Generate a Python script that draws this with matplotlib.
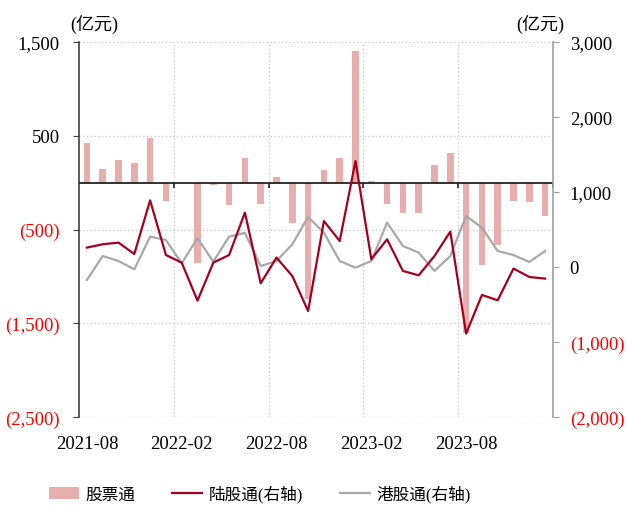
import matplotlib
matplotlib.use("Agg")
import matplotlib.pyplot as plt
from matplotlib.patches import Patch
from matplotlib.lines import Line2D
import numpy as np

plt.rcParams['font.family'] = ['Liberation Serif', 'Noto Sans CJK SC']

months = ["2021-08", "2021-09", "2021-10", "2021-11", "2021-12", "2022-01",
          "2022-02", "2022-03", "2022-04", "2022-05", "2022-06", "2022-07",
          "2022-08", "2022-09", "2022-10", "2022-11", "2022-12", "2023-01",
          "2023-02", "2023-03", "2023-04", "2023-05", "2023-06", "2023-07",
          "2023-08", "2023-09", "2023-10", "2023-11", "2023-12", "2024-01"]

# 股票通 net flow (left axis, 亿元)
stock_connect = [420, 145, 238, 213, 473, -192, 0, -854, -21, -235, 267, -231,
                 57, -427, -1245, 135, 267, 1400, 13, -231, -322, -325, 185, 320,
                 -1600, -877, -666, -192, -207, -352]
# 陆股通 (northbound, right axis)
northbound = [259, 303, 325, 173, 889, 160, 58, -448, 58, 160, 725, -217,
              125, -120, -587, 613, 347, 1413, 103, 369, -53, -111, 147, 472,
              -888, -373, -444, -21, -133, -155]
# 港股通 (southbound, right axis)
southbound = [-173, 147, 80, -31, 405, 360, 49, 383, 72, 405, 455, 13,
              80, 303, 667, 458, 80, -9, 80, 592, 280, 192, -53, 147,
              680, 525, 213, 160, 67, 213]

left_ticks = [1500, 500, -500, -1500, -2500]
right_ticks = [3000, 2000, 1000, 0, -1000, -2000]
label_months = ["2021-08", "2022-02", "2022-08", "2023-02", "2023-08"]

BAR = "#E8AEAE"
RED = "#A50021"
GRAY = "#A8A8A8"
NEG = "#FF0000"
FS = 13.5


def fmt(v):
    s = f"{abs(v):,}"
    return f"({s})" if v < 0 else s


fig = plt.figure(figsize=(6.27, 5.10), dpi=100)
ax = fig.add_axes([79 / 627, 1 - 418 / 510, (553 - 79) / 627, (418 - 43) / 510])
ax2 = ax.twinx()

x = np.arange(len(months))
ax.bar(x, stock_connect, width=0.43, color=BAR, zorder=2)
ax.axhline(0, color="#222222", lw=1.3, zorder=3)

ax.set_xlim(-0.5, len(months) - 0.5)
ax.set_ylim(-2500, 1500)
ax.set_yticks(left_ticks)
ax.set_yticklabels([fmt(v) for v in left_ticks], fontsize=FS)
for lab, v in zip(ax.get_yticklabels(), left_ticks):
    lab.set_color(NEG if v < 0 else "black")

# category axis: labels at month centres, grid at boundaries every 6 months
pos = [months.index(m) for m in label_months]
ax.set_xticks(pos)
ax.set_xticklabels(label_months, fontsize=FS)
bounds = np.arange(5.5, len(months), 6)
ax.set_xticks(bounds, minor=True)
ax.tick_params(axis="x", which="both", length=0, pad=13)
ax.grid(axis="x", which="minor", color="#C8C8C8", ls=(0, (1, 2)), lw=0.9)
ax.grid(axis="y", which="major", color="#C8C8C8", ls=(0, (1, 2)), lw=0.9)
ax.set_axisbelow(True)
ax.vlines(list(bounds) + [len(months) - 0.5], -55, 0, color="#222222", lw=1.2, zorder=3)

ax.tick_params(axis="y", length=4, pad=10, color="#404040")
for s in ["top", "bottom", "right"]:
    ax.spines[s].set_visible(False)
ax.spines["left"].set_color("#404040")
ax.spines["left"].set_linewidth(1.2)

ax2.plot(x, northbound, color=RED, lw=1.6, zorder=4)
ax2.plot(x, southbound, color=GRAY, lw=1.6, zorder=3)
ax2.set_ylim(-2000, 3000)
ax2.set_yticks(right_ticks)
ax2.set_yticklabels([fmt(v) for v in right_ticks], fontsize=FS)
for lab, v in zip(ax2.get_yticklabels(), right_ticks):
    lab.set_color(NEG if v < 0 else "black")
ax2.tick_params(axis="y", length=4, pad=8, color="#A0A0A0")
for s in ["top", "bottom", "left"]:
    ax2.spines[s].set_visible(False)
ax2.spines["right"].set_color("#A0A0A0")
ax2.spines["right"].set_linewidth(1.2)

fig.text(94 / 627, 1 - 24 / 510, "(亿元)", fontsize=13, ha="center", va="center")
fig.text(540 / 627, 1 - 24 / 510, "(亿元)", fontsize=13, ha="center", va="center")

handles = [Patch(facecolor=BAR, edgecolor="none"),
           Line2D([], [], color=RED, lw=1.6),
           Line2D([], [], color=GRAY, lw=1.6)]
labels = ["股票通", "陆股通(右轴)", "港股通(右轴)"]
fig.legend(handles, labels, loc="center", bbox_to_anchor=(260 / 627, 1 - 495 / 510),
           ncol=3, frameon=False, fontsize=12, handlelength=1.8, handleheight=0.8,
           handletextpad=0.4, columnspacing=2.2)

fig.savefig("out.png", dpi=100)
